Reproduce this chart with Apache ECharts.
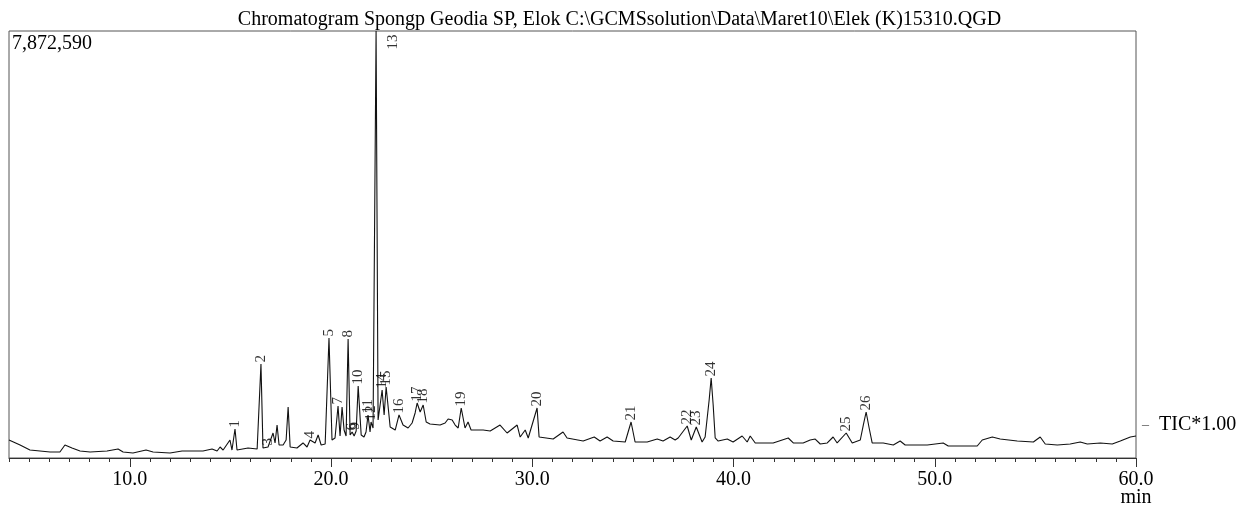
<!DOCTYPE html>
<html>
<head>
<meta charset="utf-8">
<script src="https://cdn.jsdelivr.net/npm/echarts@6/dist/echarts.min.js"></script>
<style>
html, body { margin: 0; padding: 0; background: #fff; }
#chart { width: 1239px; height: 511px; }
</style>
</head>
<body>
<div id="chart"></div>
<script>
// TIC trace (time in min, intensity in counts)
var retTime = [4.00, 4.55, 5.04, 6.04, 6.53, 6.78, 7.13, 7.53, 8.03, 8.87, 9.42, 9.67, 10.16, 10.81, 11.16, 12.00,
    12.60, 13.15, 13.64, 14.09, 14.34, 14.49, 14.64, 14.98, 15.08, 15.23, 15.33, 15.88, 16.33, 16.52, 16.62, 16.87,
    17.12, 17.22, 17.32, 17.42, 17.62, 17.77, 17.87, 17.97, 18.31, 18.61, 18.81, 18.96, 19.21, 19.36, 19.51, 19.71,
    19.90, 20.05, 20.20, 20.35, 20.45, 20.55, 20.65, 20.75, 20.85, 20.95, 21.05, 21.15, 21.25, 21.35, 21.50, 21.64,
    21.74, 21.84, 21.94, 21.99, 22.09, 22.24, 22.34, 22.54, 22.64, 22.74, 22.94, 23.19, 23.38, 23.58, 23.83, 24.03,
    24.18, 24.28, 24.43, 24.58, 24.73, 24.92, 25.42, 25.67, 25.82, 26.02, 26.17, 26.32, 26.47, 26.66, 26.81, 26.96,
    27.56, 27.91, 28.40, 28.75, 29.25, 29.40, 29.65, 29.80, 30.24, 30.34, 31.04, 31.53, 31.73, 32.53, 33.08, 33.37,
    33.72, 34.02, 34.62, 34.91, 35.11, 35.71, 36.21, 36.50, 36.85, 37.10, 37.25, 37.70, 37.90, 38.15, 38.44, 38.59,
    38.79, 38.89, 38.99, 39.09, 39.24, 39.69, 39.98, 40.43, 40.68, 40.83, 41.08, 41.97, 42.72, 42.97, 43.46, 43.81,
    44.06, 44.31, 44.66, 44.95, 45.15, 45.60, 45.90, 46.30, 46.45, 46.59, 46.74, 46.89, 47.44, 47.94, 48.28, 48.53,
    49.63, 50.42, 50.67, 52.11, 52.36, 52.86, 53.25, 54.10, 54.90, 55.24, 55.49, 56.09, 56.73, 57.23, 57.58, 58.23,
    58.82, 59.22, 59.72, 60.00];
var intensity = [332000, 240000, 147000, 111000, 111000, 240000, 184000, 129000, 111000, 129000, 166000, 111000, 92000, 147000, 111000, 92000,
    129000, 129000, 129000, 166000, 129000, 203000, 147000, 332000, 147000, 535000, 147000, 184000, 166000, 1733000, 184000, 203000,
    461000, 277000, 608000, 240000, 240000, 332000, 940000, 203000, 184000, 277000, 203000, 332000, 277000, 424000, 240000, 258000,
    2212000, 332000, 369000, 959000, 406000, 940000, 516000, 406000, 2194000, 424000, 479000, 406000, 498000, 1327000, 424000, 387000,
    479000, 793000, 479000, 664000, 553000, 7872590, 701000, 1254000, 793000, 1309000, 572000, 516000, 793000, 608000, 553000, 645000,
    830000, 1014000, 848000, 977000, 664000, 627000, 608000, 645000, 719000, 701000, 608000, 553000, 922000, 553000, 664000, 516000,
    516000, 498000, 608000, 461000, 608000, 387000, 516000, 369000, 922000, 387000, 350000, 479000, 369000, 313000, 387000, 313000,
    387000, 313000, 295000, 664000, 295000, 295000, 350000, 313000, 387000, 332000, 369000, 590000, 332000, 572000, 295000, 387000,
    1069000, 1475000, 977000, 369000, 313000, 350000, 295000, 406000, 295000, 406000, 277000, 277000, 369000, 277000, 277000, 332000,
    350000, 258000, 277000, 387000, 277000, 461000, 277000, 332000, 608000, 848000, 553000, 277000, 277000, 240000, 313000, 240000,
    240000, 277000, 221000, 221000, 332000, 387000, 350000, 313000, 295000, 387000, 258000, 240000, 258000, 295000, 258000, 277000,
    258000, 313000, 387000, 406000];

// labelled peaks
var peakNo = ['1', '2', '3', '4', '5', '6', '7', '8', '9', '10', '11', '12', '13',
    '14', '15', '16', '17', '18', '19', '20', '21', '22', '23', '24', '25', '26'];
var peakTime = [15.23, 16.52, 16.87, 18.96, 19.90, 21.05, 20.35, 20.85, 21.20, 21.35, 21.84, 21.99, 22.24,
    22.54, 22.74, 23.38, 24.28, 24.58, 26.47, 30.24, 34.91, 37.70, 38.15, 38.89, 45.60, 46.59];
var peakHeight = [535000, 1733000, 203000, 332000, 2212000, 479000, 959000, 2194000, 498000, 1327000, 793000, 664000, 7872590,
    1254000, 1309000, 793000, 1014000, 977000, 922000, 922000, 664000, 590000, 572000, 1475000, 461000, 848000];

var yMax = 7872590;
var majorTicks = [10, 20, 30, 40, 50, 60];
var timeUnit = 'min';

var serif = '"Liberation Serif", "DejaVu Serif", serif';

var trace = [];
for (var i = 0; i < retTime.length; i++) {
    trace.push([retTime[i], intensity[i]]);
}
var peaks = [];
for (var j = 0; j < peakNo.length; j++) {
    var p = { name: peakNo[j], value: [peakTime[j], peakHeight[j]] };
    if (peakHeight[j] >= yMax) {
        // top-clipped peak: number goes beside the line
        p.label = { position: [17, 19] };
    }
    peaks.push(p);
}

var chart = echarts.init(document.getElementById('chart'));
chart.setOption({
    animation: false,
    backgroundColor: '#fff',
    title: {
        text: 'Chromatogram Spongp Geodia SP, Elok C:\\GCMSsolution\\Data\\Maret10\\Elek (K)15310.QGD',
        left: 'center',
        top: 5,
        textStyle: { fontFamily: serif, fontSize: 20, fontWeight: 'normal', color: '#000' }
    },
    grid: [
        { left: 9, right: 103, top: 31, bottom: 53, show: true, borderColor: '#555', borderWidth: 1 },
        { left: 9, right: 103, top: 31, bottom: 53 }
    ],
    xAxis: [{
        type: 'value', gridIndex: 0, min: 4, max: 60, interval: 1,
        axisLine: { lineStyle: { color: '#333', width: 1 } },
        axisTick: { show: true, length: 4, lineStyle: { color: '#333' } },
        axisLabel: { show: false },
        splitLine: { show: false }
    }, {
        type: 'value', gridIndex: 1, min: 4, max: 60,
        axisLine: { show: false },
        axisTick: { show: true, length: 9, customValues: majorTicks, lineStyle: { color: '#333' } },
        axisLabel: {
            customValues: majorTicks, margin: 13, lineHeight: 18,
            formatter: function (v) {
                // the unit sits under the last tick label
                return v === 60 ? v.toFixed(1) + '\n' + timeUnit : v.toFixed(1);
            },
            fontFamily: serif, fontSize: 20, color: '#000'
        },
        splitLine: { show: false }
    }],
    yAxis: [{
        type: 'value', gridIndex: 0, min: 0, max: yMax,
        axisLine: { show: false },
        axisTick: { show: false },
        splitLine: { show: false },
        axisLabel: {
            inside: true, margin: 3, customValues: [yMax], verticalAlign: 'top', padding: [3, 0, 0, 0],
            formatter: function (v) { return v.toLocaleString('en-US'); },
            fontFamily: serif, fontSize: 20, color: '#000'
        }
    }, {
        type: 'value', gridIndex: 1, min: 0, max: 1, show: false
    }],
    series: [{
        name: 'TIC*1.00',
        type: 'line',
        xAxisIndex: 0, yAxisIndex: 0,
        data: trace,
        showSymbol: false,
        sampling: 'none',
        lineStyle: { color: '#111', width: 1.1 },
        endLabel: {
            show: true,
            distance: 6,
            offset: [0, -11],
            formatter: '{d|–}{a}',
            fontFamily: serif, fontSize: 20, color: '#000',
            rich: { d: { fontFamily: serif, fontSize: 14, color: '#555', padding: [0, 10, 0, 0] } }
        },
        z: 2
    }, {
        name: 'peaks',
        type: 'scatter',
        xAxisIndex: 0, yAxisIndex: 0,
        data: peaks,
        symbolSize: 1,
        itemStyle: { color: 'rgba(0,0,0,0)' },
        label: {
            show: true,
            position: 'top',
            distance: 1,
            rotate: 90,
            align: 'left',
            verticalAlign: 'middle',
            formatter: '{b}',
            fontFamily: serif, fontSize: 15, color: '#000'
        },
        z: 3
    }]
});
</script>
</body>
</html>
